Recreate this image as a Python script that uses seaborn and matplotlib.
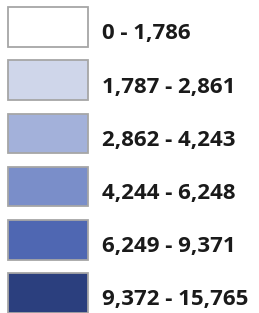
import matplotlib
matplotlib.use("Agg")
import matplotlib.pyplot as plt
import seaborn as sns
import pandas as pd

labels = ["0 - 1,786", "1,787 - 2,861", "2,862 - 4,243",
          "4,244 - 6,248", "6,249 - 9,371", "9,372 - 15,765"]
colors = ["#ffffff", "#cfd6ea", "#a3b1da", "#7a8ec9", "#4f67b2", "#2b3f7e"]
swatch = [1, 1, 1, 1, 1, 1]

df = pd.DataFrame({"label": labels, "w": swatch})

sns.set_style("white")
plt.rcParams["font.family"] = ["Open Sans", "DejaVu Sans"]

W, H = 259, 313
fig = plt.figure(figsize=(W / 100, H / 100), dpi=100)
ax = fig.add_axes([0, 0, 1, 1])
sns.barplot(data=df, x="w", y="label", hue="label", palette=colors,
            legend=False, width=39.5 / 53.2, edgecolor="#a6a6a6",
            linewidth=1.3, saturation=1, ax=ax)

bw = 80.0
x0 = 8.3
ax.set_xlim(-x0 / bw, (W - x0) / bw)
sp = 53.2
c0 = 27.0
ax.set_ylim((H - c0) / sp, -c0 / sp)
for i, lab in enumerate(labels):
    ax.text((101.5 - x0) / bw, i + 7.0 / sp, lab, ha="left", va="center",
            fontsize=16, fontweight="bold", color="#1a1a1a")
ax.set_axis_off()
fig.savefig("out.png", dpi=100)
